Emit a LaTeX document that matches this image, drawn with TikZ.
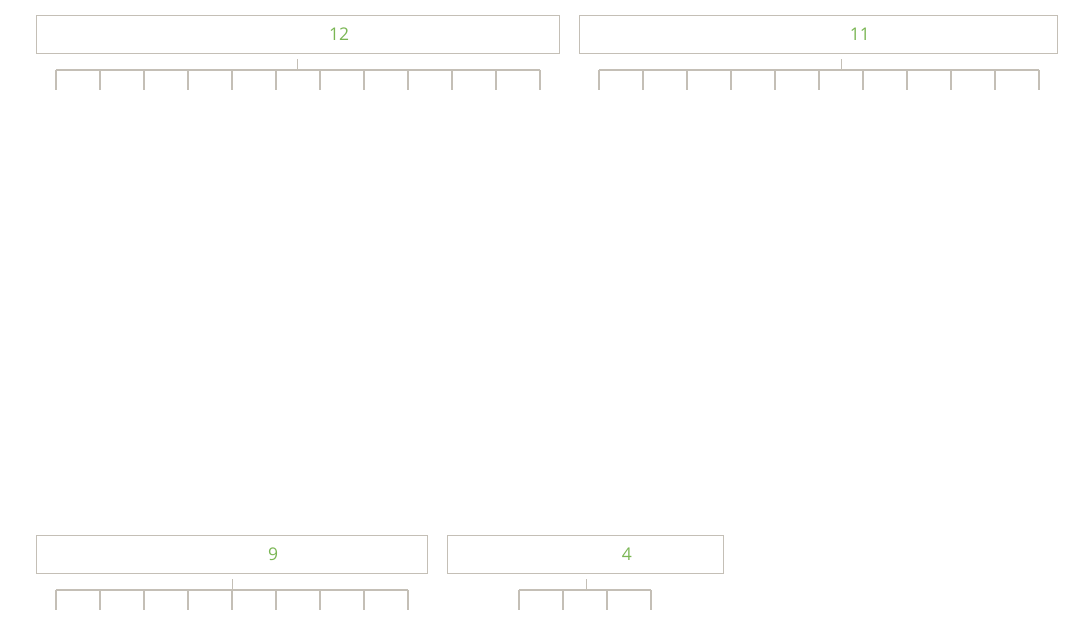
\documentclass[tikz,border=0pt]{standalone}
\usepackage{fontspec}
\setmainfont{Open Sans}
\usetikzlibrary{positioning, calc}
\definecolor{combgray}{RGB}{196,191,182}
\definecolor{countgreen}{RGB}{122,182,84}
\tikzset{
  % Group boxes
  groupbox/.style={draw=combgray, line width=1.2pt, minimum height=38pt, inner sep=0pt, anchor=north west},
  countlabel/.style={text=countgreen, font=\fontsize{17.5}{20}\selectfont, xshift=41pt},
  % Comb lines
  combline/.style={draw=combgray, line width=1.3pt},
}

\begin{document}
\begin{tikzpicture}[x=1pt, y=-1pt, node distance=19pt]
  \useasboundingbox (0,0) rectangle (1080,626);

  \node[groupbox, minimum width=523pt, label={[countlabel]center:12}] (box12) at (36,15) {};
  \node[groupbox, minimum width=478pt, label={[countlabel]center:11}, right=of box12] (box11) {};
  \node[groupbox, minimum width=391pt, label={[countlabel]center:9}] (box9) at (36,535) {};
  \node[groupbox, minimum width=276pt, label={[countlabel]center:4}, right=of box9] (box4) {};

  % stems
  \coordinate (stem12) at ($(box12.south)+(-0.5,17)$);
  \coordinate (stem11) at ($(box11.south)+(23,17)$);
  \coordinate (stem9) at ($(box9.south)+(0.5,17)$);
  \coordinate (stem4) at ($(box4.south)+(0.5,17)$);
  \draw[combline] ([xshift=-0.5pt,yshift=-5pt]box12.south) -- (stem12);
  \draw[combline] ([xshift=23pt,yshift=-5pt]box11.south) -- (stem11);
  \draw[combline] ([xshift=0.5pt,yshift=-5pt]box9.south) -- (stem9);
  \draw[combline] ([xshift=0.5pt,yshift=-5pt]box4.south) -- (stem4);

  % combs
  \draw[combline] (56,70) -- (540,70);
  \foreach \i in {0,...,11} \draw[combline] (56+44*\i,70) -- ++(0,20);
  \draw[combline] (599,70) -- (1039,70);
  \foreach \i in {0,...,10} \draw[combline] (599+44*\i,70) -- ++(0,20);
  \draw[combline] (56,590) -- (408,590);
  \foreach \i in {0,...,8} \draw[combline] (56+44*\i,590) -- ++(0,20);
  \draw[combline] (519,590) -- (651,590);
  \foreach \i in {0,...,3} \draw[combline] (519+44*\i,590) -- ++(0,20);

\end{tikzpicture}
\end{document}
